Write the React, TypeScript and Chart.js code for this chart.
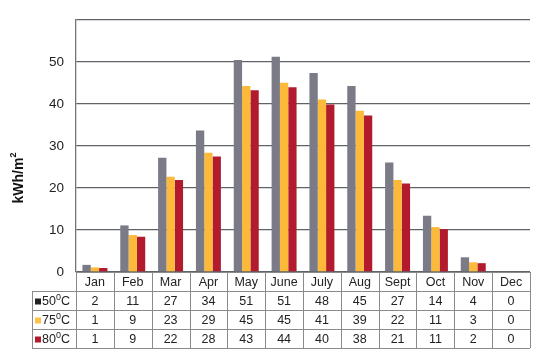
import React, { useEffect, useRef } from "react";
import { Chart, registerables } from "chart.js";

Chart.register(...registerables);

const categories = ["Jan", "Feb", "Mar", "Apr", "May", "June", "July", "Aug", "Sept", "Oct", "Nov", "Dec"];
const seriesTemps = ["50", "75", "80"];
const seriesColors = ["#7b7b88", "#fdb93a", "#b21a2e"];
const markerColors = ["#222222", "#fdc04a", "#b21a2e"];

// bar heights
const bars50 = [1.7, 11.1, 27.2, 33.7, 50.5, 51.3, 47.4, 44.3, 26.1, 13.4, 3.5, 0];
const bars75 = [1.1, 8.8, 22.7, 28.4, 44.3, 45.1, 41.1, 38.4, 21.9, 10.7, 2.3, 0];
const bars80 = [0.95, 8.4, 21.9, 27.5, 43.3, 44.0, 39.9, 37.3, 21.1, 10.2, 2.1, 0];

// values printed in the data table
const table50 = [2, 11, 27, 34, 51, 51, 48, 45, 27, 14, 4, 0];
const table75 = [1, 9, 23, 29, 45, 45, 41, 39, 22, 11, 3, 0];
const table80 = [1, 9, 22, 28, 43, 44, 40, 38, 21, 11, 2, 0];

const yTicks = [0, 10, 20, 30, 40, 50, 60];
const yTitle = "kWh/m";
const yTitleSup = "2";

const FONT = "Arial, 'Liberation Sans', sans-serif";
const TFS = 12.5;

const tablePlugin = {
  id: "dataTable",
  afterDraw(chart: any) {
    const ctx = chart.ctx as CanvasRenderingContext2D;
    const x = chart.scales.x;
    const area = chart.chartArea;
    const rowH = 19;
    const top = area.bottom;
    const labelLeft = 32;
    const n = categories.length;
    const colW = (area.right - area.left) / n;
    const tables = [table50, table75, table80];

    ctx.save();
    ctx.strokeStyle = "#8a8a8a";
    ctx.lineWidth = 1;
    ctx.beginPath();
    ctx.moveTo(area.left, top + 0.5);
    ctx.lineTo(area.right, top + 0.5);
    for (let r = 1; r <= 4; r++) {
      const y = Math.round(top + r * rowH) + 0.5;
      ctx.moveTo(labelLeft, y);
      ctx.lineTo(area.right, y);
    }
    for (let i = 0; i <= n; i++) {
      const cx = i < n ? x.getPixelForValue(i) - colW / 2 : x.getPixelForValue(n - 1) + colW / 2;
      const xx = Math.round(cx) + 0.5;
      ctx.moveTo(xx, top);
      ctx.lineTo(xx, top + 4 * rowH);
    }
    ctx.moveTo(labelLeft + 0.5, top + rowH);
    ctx.lineTo(labelLeft + 0.5, top + 4 * rowH);
    ctx.stroke();

    ctx.fillStyle = "#222";
    ctx.textAlign = "center";
    ctx.textBaseline = "middle";
    ctx.font = `${TFS}px ${FONT}`;
    for (let i = 0; i < n; i++) {
      const cx = x.getPixelForValue(i);
      ctx.fillText(categories[i], cx, top + rowH / 2 + 1);
      for (let s = 0; s < 3; s++) {
        ctx.fillText(String(tables[s][i]), cx, top + rowH * (s + 1.5) + 1);
      }
    }
    for (let s = 0; s < 3; s++) {
      const cy = top + rowH * (s + 1.5) + 1;
      ctx.fillStyle = markerColors[s];
      ctx.fillRect(35, cy - 3, 6, 6);
      ctx.fillStyle = "#222";
      ctx.textAlign = "left";
      ctx.font = `${TFS}px ${FONT}`;
      let px = 42;
      ctx.fillText(seriesTemps[s], px, cy);
      px += ctx.measureText(seriesTemps[s]).width;
      ctx.font = `9px ${FONT}`;
      ctx.fillText("0", px, cy - 4);
      px += ctx.measureText("0").width;
      ctx.font = `${TFS}px ${FONT}`;
      ctx.fillText("C", px, cy);
    }

    ctx.save();
    ctx.translate(19, 178);
    ctx.rotate(-Math.PI / 2);
    ctx.font = `bold 14px ${FONT}`;
    const w1 = ctx.measureText(yTitle).width;
    ctx.font = `bold 9px ${FONT}`;
    const w2 = ctx.measureText(yTitleSup).width;
    const start = -(w1 + w2) / 2;
    ctx.textAlign = "left";
    ctx.textBaseline = "middle";
    ctx.fillStyle = "#111";
    ctx.font = `bold 14px ${FONT}`;
    ctx.fillText(yTitle, start, 0);
    ctx.font = `bold 9px ${FONT}`;
    ctx.fillText(yTitleSup, start + w1, -5);
    ctx.restore();

    ctx.restore();
  },
};

export default function App() {
  const ref = useRef<HTMLCanvasElement>(null);
  useEffect(() => {
    if (!ref.current) return;
    const chart = new Chart(ref.current, {
      type: "bar",
      data: {
        labels: categories,
        datasets: [
          { label: "50°C", data: bars50, backgroundColor: seriesColors[0] },
          { label: "75°C", data: bars75, backgroundColor: seriesColors[1] },
          { label: "80°C", data: bars80, backgroundColor: seriesColors[2] },
        ],
      },
      options: {
        responsive: false,
        animation: false,
        devicePixelRatio: 1,
        layout: { padding: { left: 0, top: 18, right: 9, bottom: 83 } },
        plugins: { legend: { display: false }, tooltip: { enabled: false } },
        datasets: { bar: { categoryPercentage: 0.66, barPercentage: 1 } },
        scales: {
          x: { display: false },
          y: {
            min: yTicks[0],
            max: yTicks[yTicks.length - 1],
            afterFit: (s: any) => { s.width = 76; },
            afterBuildTicks: (s: any) => { s.ticks = yTicks.map((v) => ({ value: v })); },
            ticks: {
              padding: 12,
              color: "#222",
              font: { family: FONT, size: 13.5 },
              callback: (v: any) => (v === 60 ? "" : String(v)),
            },
            grid: { color: "#5f6368", lineWidth: 1.3, drawTicks: false },
            border: { display: true, color: "#777", width: 1.3 },
          },
        },
      },
      plugins: [tablePlugin],
    });
    return () => chart.destroy();
  }, []);
  return (
    <div style={{ position: "absolute", left: 0, top: 0, width: 539, height: 355, background: "#fff" }}>
      <canvas ref={ref} width={539} height={355} />
    </div>
  );
}
